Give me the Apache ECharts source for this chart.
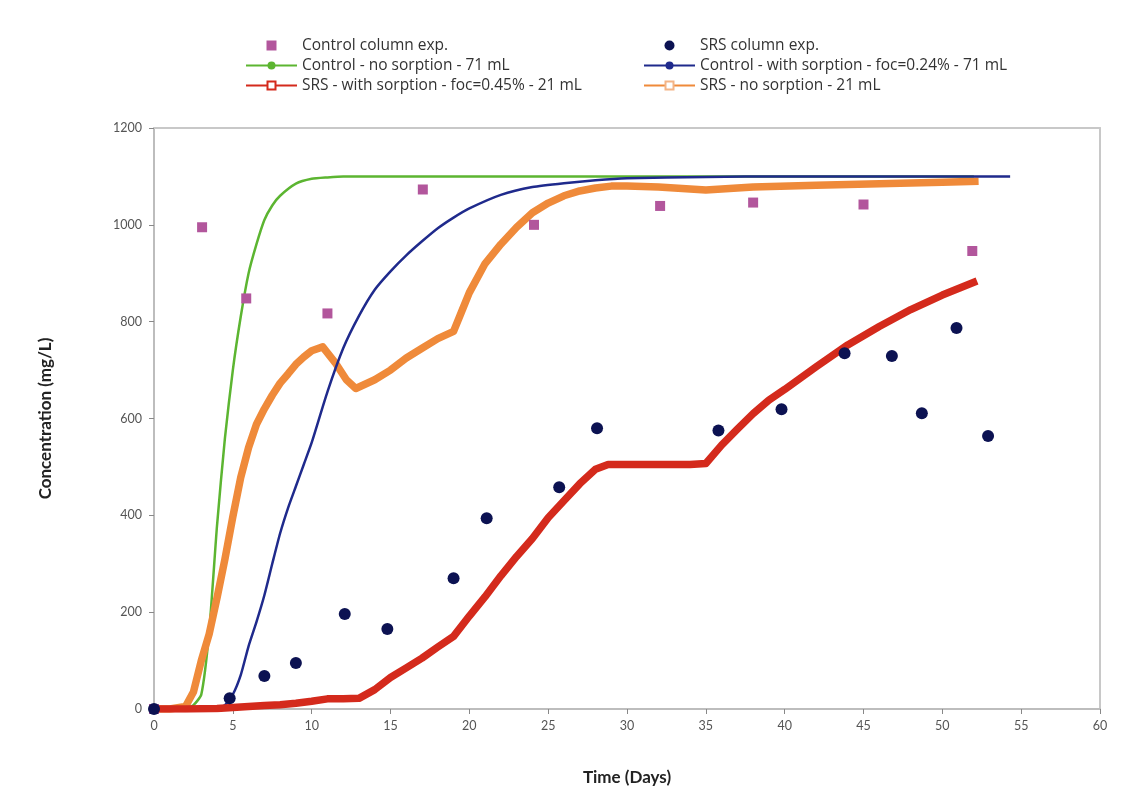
<!DOCTYPE html>
<html>
<head>
<meta charset="utf-8">
<script src="https://cdn.jsdelivr.net/npm/echarts@6/dist/echarts.min.js"></script>
<style>
html,body{margin:0;padding:0;background:#fff;}
#chart{width:1122px;height:811px;}
</style>
</head>
<body>
<div id="chart"></div>
<script>
// ---- Data ----
const xTicks = [0,5,10,15,20,25,30,35,40,45,50,55,60];
const yTicks = [0,200,400,600,800,1000,1200];

const controlExpT = [0, 3.05, 5.85, 11.0, 17.05, 24.1, 32.1, 38.0, 45.0, 51.9];
const controlExpV = [0, 995, 848, 817, 1073, 1000, 1039, 1046, 1042, 946];

const srsExpT = [0, 4.8, 7.0, 9.0, 12.1, 14.8, 19.0, 21.1, 25.7, 28.1, 35.8, 39.8, 43.8, 46.8, 48.7, 50.9, 52.9];
const srsExpV = [0, 22, 68, 95, 196, 165, 270, 394, 458, 580, 575, 619, 735, 729, 611, 787, 564];

const greenT = [0,1,2,2.5,3,3.5,4,4.5,5,5.5,6,6.5,7,7.5,8,9,10,11,12,15,20,30,40,50,52];
const greenV = [0,0,2,8,30,160,380,560,700,810,900,960,1010,1040,1060,1085,1095,1098,1100,1100,1100,1100,1100,1100,1100];

const blueT = [0,2,3,4,4.5,5,5.5,6,6.5,7,7.5,8,8.5,9,9.5,10,11,12,13,14,15,16,17,18,19,20,22,24,26,28,30,35,40,45,50,54.3];
const blueV = [0,0,0,2,8,30,70,130,180,235,300,363,415,460,505,550,655,745,812,866,904,937,966,993,1015,1034,1062,1078,1086,1092,1096,1099,1100,1100,1100,1100];

const orangeT = [0,1,2,2.5,3,3.5,4,4.5,5,5.5,6,6.5,7,7.5,8,8.5,9,9.5,10,10.7,11.5,12.2,12.8,14,15,16,17,18,19,19.5,20,21,22,23,24,25,26,27,28,29,30,32,35,38,42,46,50,52.3];
const orangeV = [0,0,5,35,100,155,230,310,397,478,540,588,620,648,673,692,712,727,740,748,715,680,662,680,700,725,745,765,780,820,860,920,960,995,1025,1045,1060,1070,1076,1080,1080,1078,1072,1078,1082,1085,1088,1090];

const redT = [0,2,4,5,6,7,8,9,10,11,12,13,14,15,16,17,18,19,20,21,22,23,24,25,26,27,28,28.8,30,32,34,35,36,37,38,39,40,42,44,46,48,50,52.2];
const redV = [0,0,1,3,5,7,9,12,16,21,21,22,40,65,85,105,128,150,192,232,275,315,352,395,430,465,495,505,505,505,505,507,545,578,610,638,660,707,752,790,825,855,884];

const names = {
  cExp: 'Control column exp.',
  sExp: 'SRS column exp.',
  green: 'Control - no sorption - 71 mL',
  blue: 'Control - with sorption - foc=0.24% - 71 mL',
  red: 'SRS - with sorption - foc=0.45% - 21 mL',
  orange: 'SRS - no sorption - 21 mL'
};

function zip(t, v){ return t.map((x,i)=>[x, v[i]]); }

const FONT = 'Lato';
const LFONT = 'Open Sans';
const chart = echarts.init(document.getElementById('chart'), null, {renderer:'canvas'});

const sq = 'path://M0,0 L10,0 L10,10 L0,10 Z';
const legendCommon = {
  orient: 'vertical',
  top: 36,
  padding: 0,
  itemWidth: 51,
  itemHeight: 10,
  itemGap: 1,
  symbolKeepAspect: true,
  textStyle: {fontFamily: LFONT, fontSize: 15.5, lineHeight: 19, color: '#333'},
  lineStyle: {width: 2},
  selectedMode: false
};

chart.setOption({
  backgroundColor: '#ffffff',
  animation: false,
  textStyle: {fontFamily: FONT},
  legend: [
    Object.assign({left: 245, data: [{name: names.cExp, icon: sq}, names.green, names.red]}, legendCommon),
    Object.assign({left: 643, data: [{name: names.sExp, icon: 'circle'}, names.blue, names.orange]}, legendCommon)
  ],
  grid: {left: 154, right: 22, top: 128, bottom: 102, containLabel: false},
  xAxis: [{
    type: 'value', min: 0, max: 60, interval: 5,
    name: 'Time (Days)', nameLocation: 'middle', nameGap: 60,
    nameTextStyle: {fontFamily: FONT, fontSize: 17, fontWeight: 'bold', color: '#222'},
    axisLine: {show: true, onZero: false, lineStyle: {color: '#bdbdbd', width: 2}},
    axisTick: {show: true, inside: false, length: 5, lineStyle: {color: '#888'}},
    axisLabel: {fontFamily: FONT, fontSize: 12.5, color: '#555', margin: 10,
      formatter: v => xTicks.includes(v) ? String(v) : ''},
    splitLine: {show: false}
  }, {
    type: 'value', min: 0, max: 60, position: 'top',
    axisLine: {show: true, onZero: false, lineStyle: {color: '#c8c8c8', width: 2}},
    axisTick: {show: false}, axisLabel: {show: false}, splitLine: {show: false}
  }],
  yAxis: [{
    type: 'value', min: 0, max: 1200, interval: 200,
    name: 'Concentration (mg/L)', nameLocation: 'middle', nameGap: 100,
    nameTextStyle: {fontFamily: FONT, fontSize: 17, fontWeight: 'bold', color: '#222'},
    axisLine: {show: true, onZero: false, lineStyle: {color: '#bdbdbd', width: 2}},
    axisTick: {show: true, inside: false, length: 5, lineStyle: {color: '#888'}},
    axisLabel: {fontFamily: FONT, fontSize: 12.5, color: '#555', margin: 12,
      formatter: v => yTicks.includes(v) ? String(v) : ''},
    splitLine: {show: false}
  }, {
    type: 'value', min: 0, max: 1200, position: 'right',
    axisLine: {show: true, onZero: false, lineStyle: {color: '#c8c8c8', width: 2}},
    axisTick: {show: false}, axisLabel: {show: false}, splitLine: {show: false}
  }],
  series: [
    {
      name: names.green, type: 'line', data: zip(greenT, greenV),
      symbol: 'circle', symbolSize: 4, showSymbol: false, smooth: 0.2,
      lineStyle: {color: '#5cb531', width: 2.5}, itemStyle: {color: '#5cb531'}, z: 2
    },
    {
      name: names.orange, type: 'line', data: zip(orangeT, orangeV),
      symbol: 'emptyRect', symbolSize: 8, showSymbol: false,
      lineStyle: {color: '#ef8a3a', width: 7.5, join: 'round'}, itemStyle: {color: '#f3b486'}, z: 3
    },
    {
      name: names.blue, type: 'line', data: zip(blueT, blueV),
      symbol: 'circle', symbolSize: 4, showSymbol: false, smooth: 0.2,
      lineStyle: {color: '#1f2a8c', width: 2.5}, itemStyle: {color: '#1f2a8c'}, z: 4
    },
    {
      name: names.red, type: 'line', data: zip(redT, redV),
      symbol: 'emptyRect', symbolSize: 8, showSymbol: false,
      lineStyle: {color: '#d42a1c', width: 7.5, join: 'round'}, itemStyle: {color: '#d42a1c'}, z: 5
    },
    {
      name: names.cExp, type: 'scatter', data: zip(controlExpT, controlExpV),
      symbol: 'rect', symbolSize: 10, itemStyle: {color: '#b2569c', opacity: 1}, z: 6
    },
    {
      name: names.sExp, type: 'scatter', data: zip(srsExpT, srsExpV),
      symbol: 'circle', symbolSize: 12, itemStyle: {color: '#0c1252', opacity: 1}, z: 7
    }
  ]
});
</script>
</body>
</html>
